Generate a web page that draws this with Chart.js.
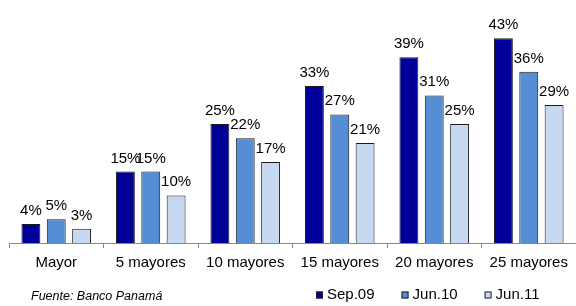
<!DOCTYPE html>
<html>
<head>
<meta charset="utf-8">
<script src="https://cdn.jsdelivr.net/npm/chart.js@4"></script>
<style>
  html, body { margin: 0; padding: 0; background: #fff; }
  #wrap { width: 576px; height: 306px; }
</style>
</head>
<body>
<div id="wrap"><canvas id="chart" width="576" height="306"></canvas></div>
<script>
// ---------------- DATA ----------------
const categories = ["Mayor", "5 mayores", "10 mayores", "15 mayores", "20 mayores", "25 mayores"];
const seriesNames = ["Sep.09", "Jun.10", "Jun.11"];
const sep09 = [4, 15, 25, 33, 39, 43];
const jun10 = [5, 15, 22, 27, 31, 36];
const jun11 = [3, 10, 17, 21, 25, 29];
const sourceText = "Fuente: Banco Panamá";

const FONT = "'Liberation Sans', Arial, sans-serif";
Chart.defaults.font.family = FONT;
Chart.defaults.color = "#000";

// ---------------- VALUE LABELS ----------------
const valueLabels = {
    id: "valueLabels",
    afterDatasetsDraw(chart) {
        const ctx = chart.ctx;
        ctx.save();
        ctx.font = "15px " + FONT;
        ctx.fillStyle = "#000";
        ctx.textAlign = "center";
        ctx.textBaseline = "alphabetic";
        chart.data.datasets.forEach((ds, i) => {
            chart.getDatasetMeta(i).data.forEach((bar, j) => {
                ctx.fillText(ds.data[j] + "%", bar.x, bar.y - 9);
            });
        });
        ctx.restore();
    }
};

// ---------------- LEGEND + SOURCE ----------------
const bottomTexts = {
    id: "bottomTexts",
    afterDraw(chart) {
        const ctx = chart.ctx;
        ctx.save();
        ctx.textBaseline = "middle";
        ctx.textAlign = "left";

        ctx.font = "italic 12.5px " + FONT;
        ctx.fillStyle = "#000";
        ctx.fillText(sourceText, 31, 297);

        ctx.font = "15px " + FONT;
        let x = 316;
        const y = 295;
        chart.data.datasets.forEach(ds => {
            ctx.fillStyle = ds.backgroundColor;
            ctx.fillRect(x, y - 3.5, 7, 7);
            ctx.strokeStyle = "#222";
            ctx.lineWidth = 1;
            ctx.strokeRect(x + 0.5, y - 3, 6, 6);
            ctx.fillStyle = "#000";
            ctx.fillText(ds.label, x + 11, y);
            x += 11 + ctx.measureText(ds.label).width + 27;
        });
        ctx.restore();
    }
};

new Chart(document.getElementById("chart"), {
    type: "bar",
    data: {
        labels: categories,
        datasets: [
            { label: seriesNames[0], data: sep09, backgroundColor: "#000099", borderColor: "#1a1a1a", borderWidth: 1 },
            { label: seriesNames[1], data: jun10, backgroundColor: "#558ED5", borderColor: "#1a1a1a", borderWidth: 1 },
            { label: seriesNames[2], data: jun11, backgroundColor: "#C6D9F1", borderColor: "#1a1a1a", borderWidth: 1 }
        ]
    },
    options: {
        responsive: false,
        animation: false,
        categoryPercentage: 0.805,
        barPercentage: 0.745,
        layout: { padding: { left: 9, right: -4, top: 5, bottom: 35 } },
        plugins: {
            legend: { display: false },
            tooltip: { enabled: false }
        },
        scales: {
            y: { display: false, min: 0, max: 50 },
            x: {
                grid: { drawOnChartArea: false, drawTicks: true, tickLength: 5, color: "#888", offset: true },
                border: { color: "#888", width: 1 },
                ticks: { font: { size: 15 }, color: "#000", padding: 6, maxRotation: 0 },
                afterFit(scale) { scale.height = 28; }
            }
        }
    },
    plugins: [valueLabels, bottomTexts]
});
</script>
</body>
</html>
